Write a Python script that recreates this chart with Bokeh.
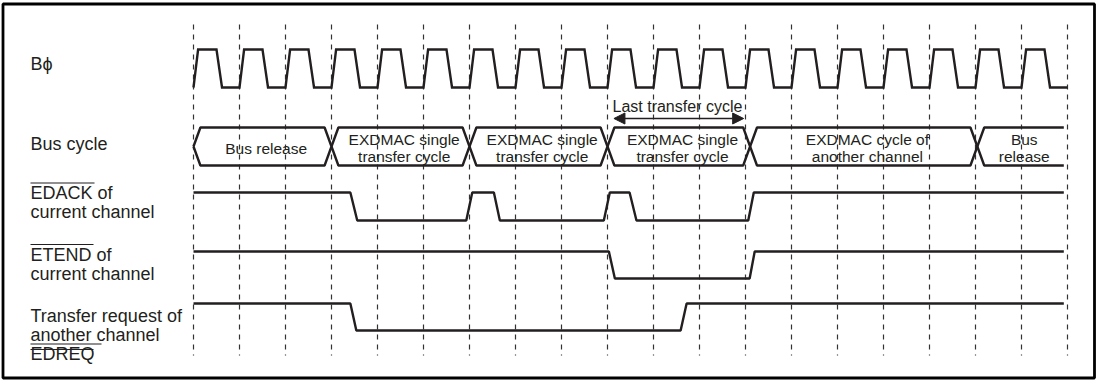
from bokeh.plotting import figure
from bokeh.models import Range1d, Arrow, NormalHead
from bokeh.core.properties import value
from bokeh.embed import file_html
from bokeh.resources import INLINE

# ---------------- data (time in bus-clock cycles) ----------------
n_cycles = 19
clk_shape_t = [0.0, 0.1, 0.5, 0.62, 1.0]
clk_shape_v = [0, 1, 1, 0, 0]

bus_bounds = [0.0, 3.0, 6.0, 9.0, 12.1, 17.04, 18.92]
bus_labels = ["Bus release",
              "EXDMAC single\ntransfer cycle",
              "EXDMAC single\ntransfer cycle",
              "EXDMAC single\ntransfer cycle",
              "EXDMAC cycle of\nanother channel",
              "Bus\nrelease"]

edack_t = [0.0, 3.41, 3.56, 5.93, 6.06, 6.53, 6.66, 8.92, 9.05, 9.48, 9.63, 12.06, 12.18, 18.92]
edack_v = [1, 1, 0, 0, 1, 1, 0, 0, 1, 1, 0, 0, 1, 1]

etend_t = [0.0, 9.03, 9.16, 12.09, 12.2, 18.92]
etend_v = [1, 1, 0, 0, 1, 1]

edreq_t = [0.0, 3.41, 3.54, 10.59, 10.72, 18.92]
edreq_v = [1, 1, 0, 0, 1, 1]

last_cycle_start, last_cycle_end = 9.14, 11.96
last_cycle_label = "Last transfer cycle"

# ---------------- layout ----------------
W, H = 1097, 380
X0_PX, PERIOD_PX, ORG = 193.0, 46.0, 0.0   # reference pixel of t=0, px per cycle, page offset


def tx(px):
    return (px - X0_PX) / PERIOD_PX


FONT = value("Liberation Sans")
LINE = "#231f20"

p = figure(width=W, height=H, output_backend="svg", toolbar_location=None,
           x_range=Range1d(tx(ORG), tx(ORG + W)), y_range=Range1d(ORG + H, ORG),
           x_axis_type=None, y_axis_type=None, min_border=0)
p.grid.visible = False
p.background_fill_color = "white"
p.border_fill_color = "white"
p.outline_line_color = None

# frame
p.quad(left=[tx(2.5)], right=[tx(1094)], top=[3.5], bottom=[377.5],
       fill_color=None, line_color="black", line_width=2.8)

# dashed cycle grid
grid_t = list(range(n_cycles + 1))
p.segment(x0=grid_t, y0=[24] * len(grid_t), x1=grid_t, y1=[355] * len(grid_t),
          line_color="#333333", line_width=1.2, line_dash="5 5")

# clock
clk_hi, clk_lo = 49, 87
cx, cy = [], []
for k in range(n_cycles):
    for ft, fv in zip(clk_shape_t, clk_shape_v):
        cx.append(k + ft)
        cy.append(clk_hi if fv else clk_lo)
p.line(cx, cy, line_color=LINE, line_width=2.4, line_join="miter")


def wave(ts, vs, hi, lo):
    p.line(ts, [hi if v else lo for v in vs], line_color=LINE, line_width=2.4)


wave(edack_t, edack_v, 192, 220)
wave(etend_t, etend_v, 251, 278)
wave(edreq_t, edreq_v, 303, 330)

# bus cycle boxes
top, bot, mid = 127, 165, 146
h = 0.15
bxs, bys = [], []
nb = len(bus_labels)
for i in range(nb):
    b0, b1 = bus_bounds[i], bus_bounds[i + 1]
    if i < nb - 1:
        bxs.append([b0, b0 + h, b1 - h, b1, b1 - h, b0 + h, b0])
        bys.append([mid, top, top, mid, bot, bot, mid])
    else:
        bxs.append([b1, b0 + h, b0, b0 + h, b1])
        bys.append([top, top, mid, bot, bot])
p.multi_line(bxs, bys, line_color=LINE, line_width=2.4)

lab_x = [(bus_bounds[i] + bus_bounds[i + 1]) / 2 + 0.08 for i in range(nb)]
p.text(x=lab_x, y=[147.5] * nb, text=bus_labels, text_font=FONT,
       text_font_size="15.5px", text_align="center", text_baseline="middle",
       text_line_height=1.05, text_color="#231f20")

# last transfer cycle arrow
p.add_layout(Arrow(x_start=last_cycle_start, y_start=118, x_end=last_cycle_end, y_end=118,
                   line_color=LINE, line_width=1.5,
                   start=NormalHead(size=11, fill_color=LINE, line_color=LINE),
                   end=NormalHead(size=11, fill_color=LINE, line_color=LINE)))
p.text(x=[(last_cycle_start + last_cycle_end) / 2 - 0.03], y=[106], text=[last_cycle_label],
       text_font=FONT, text_font_size="16px", text_align="center",
       text_baseline="middle", text_color="#231f20")

# signal names
names = ["B\u03d5", "Bus cycle", "EDACK of\ncurrent channel", "ETEND of\ncurrent channel",
         "Transfer request of\nanother channel\nEDREQ"]
name_y = [63, 143.5, 202, 264, 334.5]
lx = tx(30)
p.text(x=[lx] * len(names), y=name_y, text=names, text_font=FONT,
       text_font_size="18px", text_align="left", text_baseline="middle",
       text_line_height=0.95, text_color="#231f20")

# over/underlines of the signal names
p.segment(x0=[lx, lx, lx, lx], y0=[182.5, 244, 343.5, 349],
          x1=[tx(94), tx(93), tx(101), tx(93)], y1=[182.5, 244, 343.5, 349],
          line_color=LINE, line_width=1.2)

html = file_html(p, INLINE)
open("out.html", "w").write(html)
